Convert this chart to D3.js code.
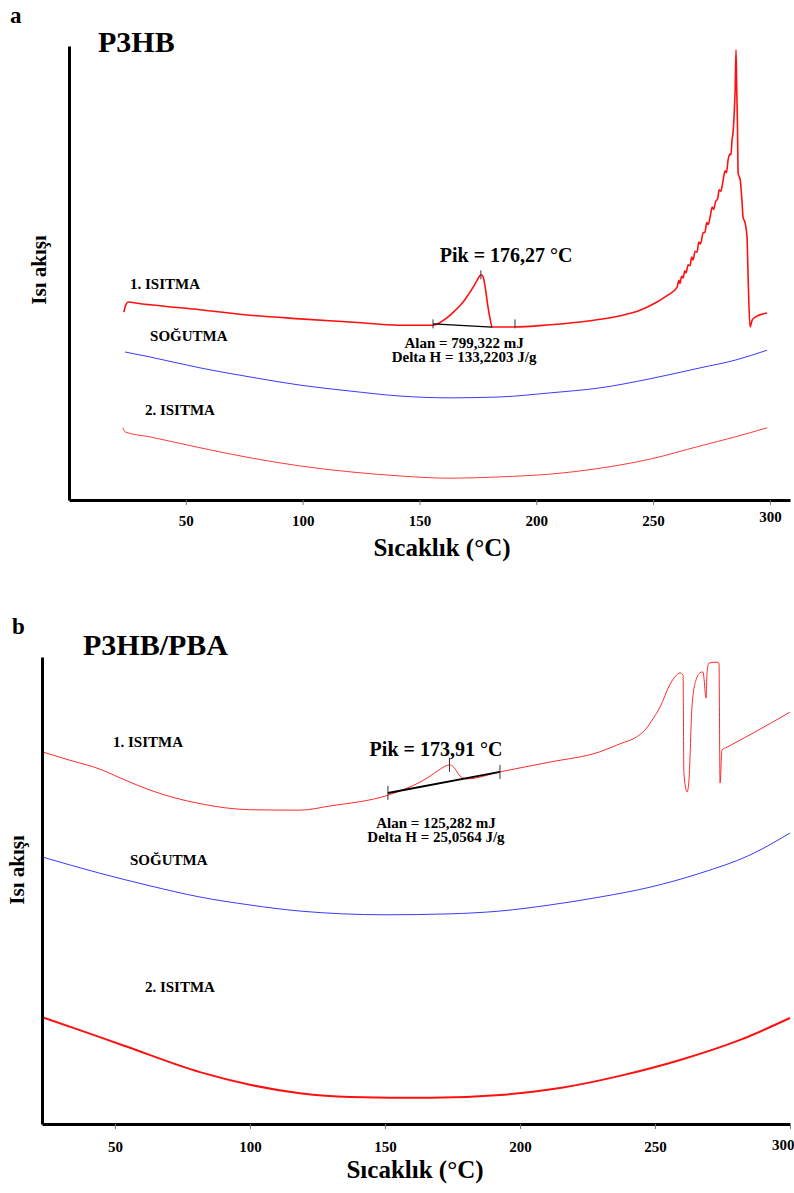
<!DOCTYPE html>
<html>
<head>
<meta charset="utf-8">
<script src="https://cdn.jsdelivr.net/npm/d3@7"></script>
<style>
    body { margin: 0; background: #fff; }
    text { font-family: "Liberation Serif", "Times New Roman", serif; font-weight: bold; fill: #000; }
</style>
</head>
<body>
<div id="chart"></div>
<script>
// Temperature ticks shared by both panels
let tempTicks = [50, 100, 150, 200, 250, 300];

// Panel a (P3HB): [temperature in C, heat flow in arbitrary units]
let aHeat1 = [
    [23.5, 41.4], [24.3, 43.0], [25.5, 43.6], [28.3, 43.4], [34.7, 43.0], [56.1, 41.9],
    [77.5, 40.7], [98.9, 39.9], [120.3, 39.2], [141.7, 38.5], [155.8, 38.5], [158.5, 39.0],
    [162, 40.2], [165, 41.6], [168.7, 43.6], [171, 45.3], [173, 46.9], [174.8, 48.5],
    [176.3, 49.6], [177.2, 49.2], [178.1, 47.0], [179.2, 43.0], [180.2, 40.0], [181.1, 38.1],
    [190.1, 38.1], [206, 38.6], [218.8, 39.2], [227.3, 39.8], [236, 40.6], [244.4, 41.8],
    [251.7, 43.6], [256, 45.0], [260.3, 46.9], [261.0, 48.4], [261.5, 47.7], [262.2, 49.3],
    [262.8, 48.9], [263.6, 50.5], [264.1, 50.0], [265.0, 51.8], [265.8, 51.6], [266.5, 53.5],
    [267.1, 52.9], [268.0, 54.8], [268.8, 54.6], [269.6, 56.8], [270.3, 56.4], [271.4, 58.8],
    [272.2, 59.0], [273.0, 61.1], [273.6, 60.7], [274.4, 62.3], [275.3, 64.5], [275.9, 64.0],
    [276.8, 65.8], [277.6, 66.3], [278.3, 68.3], [279.0, 68.0], [280, 70.5], [280.8, 72.5],
    [281.4, 72.1], [282.1, 74.9], [282.8, 76.2], [283.3, 76.0], [283.8, 79.3], [284.2, 80.8],
    [284.7, 85.0], [285.1, 90.0], [285.5, 99.1], [285.8, 90.5], [286.1, 83.0], [286.4, 72.0],
    [287.3, 70.5], [288.1, 65.4], [288.5, 62.3], [289.4, 61.0], [290.2, 57.9], [290.7, 48.5],
    [291.5, 38.1], [292.4, 39.6], [293.7, 40.3], [298.8, 41.2]
];
let aCool = [
    [24, 32.6], [34.7, 31.5], [56.1, 29.1], [77.5, 27.1], [98.9, 25.3], [120.3, 24.0],
    [141.7, 22.9], [163.1, 22.5], [184.5, 22.7], [206, 23.6], [227.3, 24.7], [248.7, 26.7],
    [270.1, 29.1], [285.1, 30.8], [298.8, 33.0]
];
let aHeat2 = [
    [23.1, 15.9], [24, 15.0], [34.7, 13.9], [56.1, 11.5], [77.5, 9.3], [98.9, 7.5],
    [120.3, 6.2], [141.7, 5.3], [163.1, 4.8], [184.5, 5.1], [205.9, 5.7], [227.3, 7.0],
    [248.7, 9.0], [270.1, 11.9], [285.1, 13.9], [298.8, 15.9]
];
let aBaseline = [[155.8, 38.8], [181.1, 38.1]];
let aMarks = [[155.8, 38.8], [176.3, 49.6], [190.9, 38.8]];

// Panel b (P3HB/PBA)
let bHeat1 = [
    [23, 79.7], [33.3, 77.9], [44.4, 76.0], [47.4, 75.3], [50, 74.6], [55.6, 73.2],
    [63, 71.5], [81.5, 68.6], [100, 67.3], [118.5, 67.2], [129.6, 68.1], [151.1, 70.4],
    [158.1, 71.9], [163, 73.2], [166.7, 74.5], [170, 75.8], [172.2, 76.6], [173.9, 76.9],
    [175.5, 76.4], [176.7, 75.4], [178.2, 74.3], [180.4, 73.9], [192.6, 75.4], [211.1, 77.5],
    [229.6, 79.7], [237, 81.4], [243.5, 83.0], [246.5, 84.5], [249.3, 86.8], [251.9, 89.3],
    [255.6, 94.2], [258.3, 96.3], [259.3, 96.6], [260.4, 96.1], [260.7, 75.2], [261.9, 71.1],
    [262.6, 73.7], [263.7, 89.3], [265.2, 95.1], [266.7, 96.6], [267.8, 96.8], [268.1, 95.7],
    [268.9, 91.2], [269.3, 96.8], [270, 98.7], [273, 98.9], [273.7, 98.7], [274.1, 73.0],
    [274.8, 80.1], [276.7, 80.7], [286.3, 83.7], [300, 88.2]
];
let bCool = [
    [23, 57.2], [44.4, 53.7], [63, 51.0], [81.5, 48.6], [100, 46.9], [118.5, 45.6],
    [150, 44.8], [174.1, 45.0], [192.6, 45.6], [211.1, 46.9], [229.6, 48.6], [248.1, 50.7],
    [266.7, 53.7], [285.2, 57.6], [300, 62.3]
];
let bHeat2 = [
    [23, 22.9], [37, 20.1], [53.7, 16.7], [81.5, 11.1], [100, 8.4], [118.5, 6.6],
    [137, 5.8], [166.7, 5.6], [192.6, 6.2], [214.8, 7.7], [237, 10.3], [259.3, 13.7],
    [281.5, 18.0], [300, 22.7]
];
let bBaseline = [[151.1, 70.9], [192.6, 75.4]];
let bMarks = [[151.1, 70.9], [173.9, 76.9], [192.6, 75.4]];

let width = 794;
let height = 1193;

let svg = d3.select("#chart")
    .append("svg")
    .attr("width", width)
    .attr("height", height);

/**
 * drawPanel draws one DSC panel: axes, three curves and the peak annotation
 */
let drawPanel = function (p) {
    let xScale = d3.scaleLinear().domain(p.xDomain).range([p.left, p.right]);
    let yScale = d3.scaleLinear().domain([0, 100]).range([p.bottom, p.top]);

    let line = d3.line()
        .curve(d3.curveMonotoneX)
        .x(function (d) { return xScale(d[0]); })
        .y(function (d) { return yScale(d[1]); });

    // curves
    p.curves.forEach(function (c) {
        svg.append("path")
            .datum(c.data)
            .attr("d", line)
            .attr("fill", "none")
            .attr("stroke", c.color)
            .attr("stroke-width", c.width)
            .attr("stroke-linejoin", "round");
    });

    // integration baseline + marks
    svg.append("path")
        .datum(p.baseline)
        .attr("d", line)
        .attr("fill", "none")
        .attr("stroke", "#000")
        .attr("stroke-width", p.baseWidth);

    svg.selectAll(null)
        .data(p.marks)
        .enter()
        .append("line")
        .attr("x1", function (d) { return xScale(d[0]); })
        .attr("x2", function (d) { return xScale(d[0]); })
        .attr("y1", function (d) { return yScale(d[1]) - p.markLen; })
        .attr("y2", function (d) { return yScale(d[1]) + p.markLen; })
        .attr("stroke", "#333")
        .attr("stroke-width", 1);

    // x axis
    let xAxis = d3.axisBottom(xScale)
        .tickValues(tempTicks)
        .tickSize(5)
        .tickSizeOuter(0)
        .tickPadding(p.tickPad);

    let gx = svg.append("g")
        .attr("transform", "translate(0," + p.bottom + ")")
        .call(xAxis);
    gx.select(".domain").attr("stroke", "#000").attr("stroke-width", 3);
    gx.selectAll(".tick line").attr("stroke", "#777");
    gx.selectAll(".tick text")
        .attr("font-size", 15)
        .attr("font-weight", "bold");
    // last label (300) sits at the end of the axis
    gx.selectAll(".tick text")
        .filter(function (d) { return d === 300; })
        .attr("dx", p.lastDx)
        .attr("dy", p.lastDy)
        .attr("text-anchor", p.lastAnchor);

    // y axis (line only)
    let yAxis = d3.axisLeft(yScale).tickValues([]).tickSizeOuter(0);
    let gy = svg.append("g")
        .attr("transform", "translate(" + p.left + ",0)")
        .call(yAxis);
    gy.select(".domain").attr("stroke", "#000").attr("stroke-width", 3);

    // titles
    svg.append("text")
        .attr("x", p.letterX).attr("y", p.letterY)
        .attr("font-size", 23)
        .text(p.letter);

    svg.append("text")
        .attr("x", p.titleX).attr("y", p.titleY)
        .attr("font-size", 30)
        .text(p.title);

    svg.append("text")
        .attr("x", p.xTitleX).attr("y", p.xTitleY)
        .attr("text-anchor", "middle")
        .attr("font-size", 25)
        .text("Sıcaklık (°C)");

    svg.append("text")
        .attr("transform", "translate(" + p.yTitleX + "," + p.yTitleY + ") rotate(-90)")
        .attr("text-anchor", "middle")
        .attr("font-size", 21)
        .text("Isı akışı");

    // curve labels
    p.labels.forEach(function (l) {
        svg.append("text")
            .attr("x", xScale(l.t))
            .attr("y", yScale(l.v))
            .attr("font-size", 15)
            .text(l.text);
    });

    // peak annotation
    svg.append("text")
        .attr("x", xScale(p.pik.t)).attr("y", yScale(p.pik.v))
        .attr("text-anchor", "middle")
        .attr("font-size", 20)
        .text(p.pik.text);

    p.notes.forEach(function (n) {
        svg.append("text")
            .attr("x", xScale(n.t)).attr("y", yScale(n.v))
            .attr("text-anchor", "middle")
            .attr("font-size", 15)
            .text(n.text);
    });
};

drawPanel({
    xDomain: [0, 308.6], left: 69, right: 790, top: 46, bottom: 500,
    curves: [
        { data: aHeat1, color: "#ff1010", width: 1.6 },
        { data: aCool, color: "#3a3aff", width: 1 },
        { data: aHeat2, color: "#ff3a3a", width: 1 }
    ],
    baseline: aBaseline, baseWidth: 1.3, marks: aMarks, markLen: 4.5,
    tickPad: 10, lastDx: 0, lastDy: "0.45em", lastAnchor: "middle",
    letter: "a", letterX: 10, letterY: 23,
    title: "P3HB", titleX: 98, titleY: 52,
    xTitleX: 442, xTitleY: 556,
    yTitleX: 46, yTitleY: 270,
    labels: [
        { t: 26.1, v: 46.5, text: "1. ISITMA" },
        { t: 34.7, v: 35.0, text: "SOĞUTMA" },
        { t: 32.5, v: 18.7, text: "2. ISITMA" }
    ],
    pik: { t: 187.1, v: 52.4, text: "Pik = 176,27 °C" },
    notes: [
        { t: 169.1, v: 33.5, text: "Alan = 799,322 mJ" },
        { t: 169.1, v: 30.4, text: "Delta H = 133,2203 J/g" }
    ]
});

drawPanel({
    xDomain: [23, 300], left: 42, right: 790, top: 657, bottom: 1124,
    curves: [
        { data: bHeat1, color: "#ff2a2a", width: 1 },
        { data: bCool, color: "#3a3aff", width: 1 },
        { data: bHeat2, color: "#ff1010", width: 2 }
    ],
    baseline: bBaseline, baseWidth: 2, marks: bMarks, markLen: 7,
    tickPad: 12, lastDx: 4, lastDy: "0.6em", lastAnchor: "end",
    letter: "b", letterX: 12, letterY: 634,
    title: "P3HB/PBA", titleX: 83, titleY: 655,
    xTitleX: 415, xTitleY: 1178,
    yTitleX: 24, yTitleY: 870,
    labels: [
        { t: 49.3, v: 80.7, text: "1. ISITMA" },
        { t: 55.6, v: 55.5, text: "SOĞUTMA" },
        { t: 61.1, v: 28.3, text: "2. ISITMA" }
    ],
    pik: { t: 168.9, v: 78.8, text: "Pik = 173,91 °C" },
    notes: [
        { t: 168.9, v: 63.4, text: "Alan = 125,282 mJ" },
        { t: 168.9, v: 60.4, text: "Delta H = 25,0564 J/g" }
    ]
});
</script>
</body>
</html>
